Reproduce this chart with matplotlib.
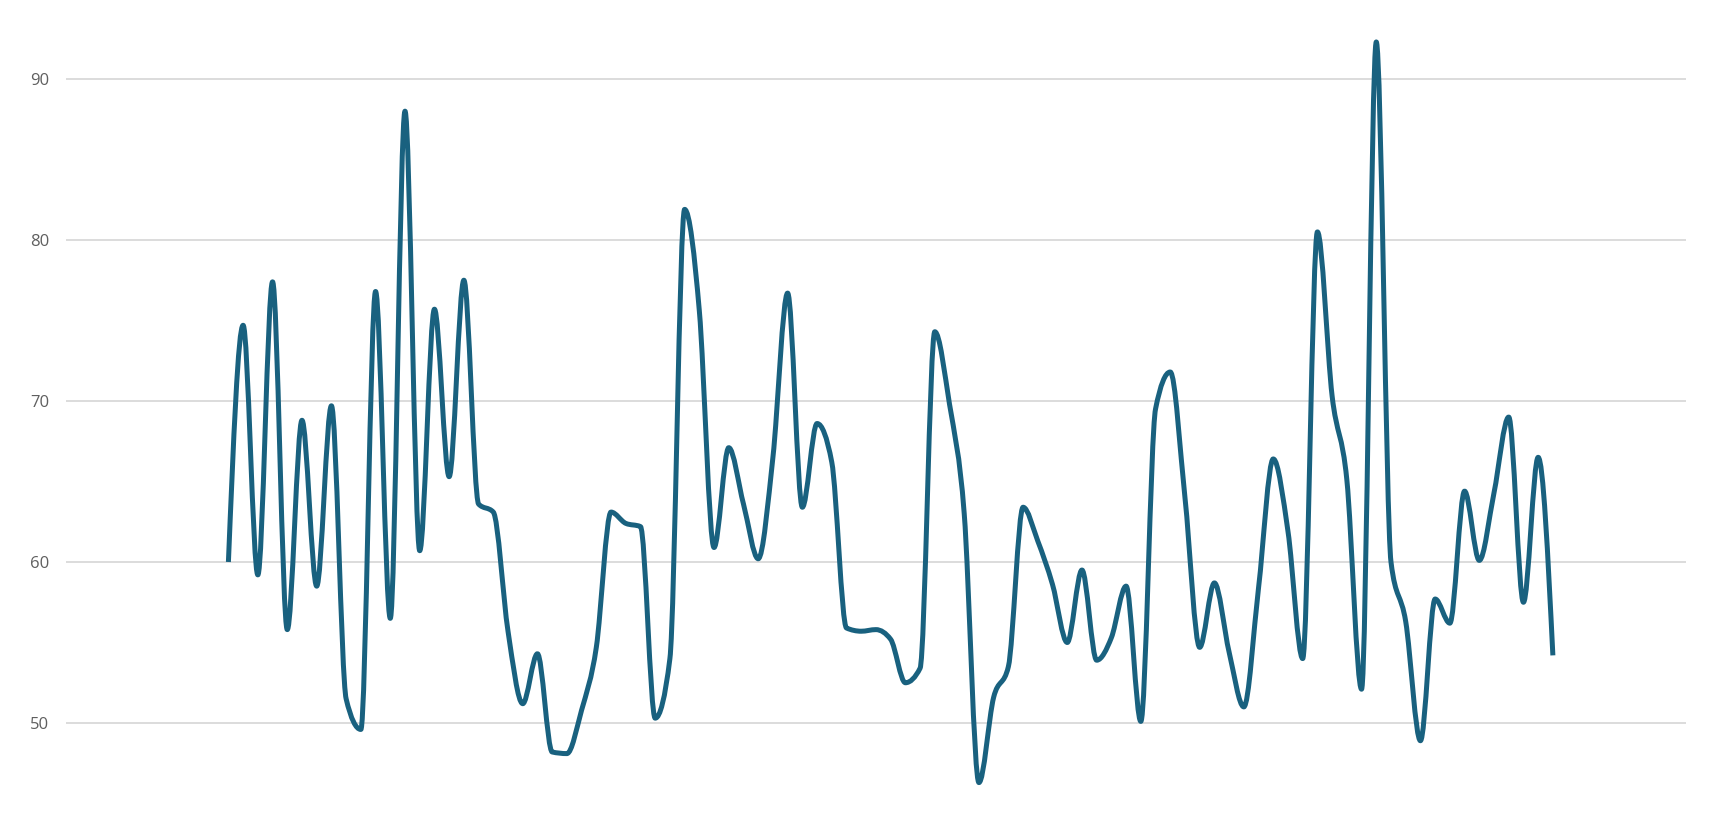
import numpy as np
import matplotlib
matplotlib.use("Agg")
import matplotlib.pyplot as plt
from matplotlib.path import Path
from matplotlib.patches import PathPatch

# Values (one point per step, evenly spaced)
values = [
    60.0, 74.7, 59.2, 77.4, 55.8, 68.8, 58.5, 69.7, 51.5, 49.6,
    76.8, 56.5, 88.0, 60.7, 75.7, 65.3, 77.5, 63.6, 63.1, 55.7,
    51.2, 54.3, 48.2, 48.1, 50.8, 54.7, 63.1, 62.4, 62.2, 50.3,
    54.0, 81.9, 75.6, 60.9, 67.1, 63.6, 60.2, 66.5, 76.7, 63.4,
    68.6, 66.2, 55.9, 55.7, 55.8, 55.2, 52.5, 53.4, 74.3, 69.8,
    63.0, 46.3, 51.6, 53.5, 63.4, 61.3, 58.6, 55.0, 59.5, 53.9,
    55.3, 58.5, 50.1, 69.5, 71.8, 64.0, 54.7, 58.7, 54.4, 51.0,
    58.4, 66.4, 61.9, 54.0, 80.5, 70.3, 65.1, 52.1, 92.3, 60.0,
    56.3, 48.9, 57.7, 56.2, 64.4, 60.1, 64.3, 69.0, 57.5, 66.5,
    54.2,
]
y_ticks = [50, 60, 70, 80, 90]

LINE_COLOR = "#19617f"
GRID_COLOR = "#d6d6d6"


def monotone_path(x, y):
    """Bezier path of a monotone-x cubic through the points (Steffen slopes)."""
    x = np.asarray(x, float)
    y = np.asarray(y, float)
    h = np.diff(x)
    s = np.diff(y) / h
    sgn = lambda v: np.where(v < 0, -1.0, 1.0)
    t = np.zeros(len(x))
    p = (s[:-1] * h[1:] + s[1:] * h[:-1]) / (h[:-1] + h[1:])
    t[1:-1] = (sgn(s[:-1]) + sgn(s[1:])) * np.minimum(
        np.minimum(np.abs(s[:-1]), np.abs(s[1:])), 0.5 * np.abs(p))
    t[0] = (3 * s[0] - t[1]) / 2
    t[-1] = (3 * s[-1] - t[-2]) / 2

    verts = [(x[0], y[0])]
    codes = [Path.MOVETO]
    for i in range(len(x) - 1):
        dx = h[i] / 3
        verts += [(x[i] + dx, y[i] + dx * t[i]),
                  (x[i + 1] - dx, y[i + 1] - dx * t[i + 1]),
                  (x[i + 1], y[i + 1])]
        codes += [Path.CURVE4] * 3
    return Path(verts, codes)


xs = np.arange(len(values))

fig = plt.figure(figsize=(17.3, 8.22), dpi=100)
ax = fig.add_axes([0.0382, 0.0225, 0.9364, 0.9402])

for v in y_ticks:
    ax.axhline(v, color=GRID_COLOR, linewidth=1.2, zorder=1)

ax.add_patch(PathPatch(monotone_path(xs, values), fill=False,
                       edgecolor=LINE_COLOR, linewidth=3.6,
                       capstyle="butt", joinstyle="round", zorder=3))

ax.set_xlim(-11.03, 99.05)
ax.set_ylim(45, 93)
ax.set_yticks(y_ticks)
ax.set_yticklabels([str(v) for v in y_ticks], fontfamily="Open Sans",
                   fontsize=12, color="#5f5f5f")
ax.set_xticks([])
ax.tick_params(axis="y", length=0, pad=12)
for side in ax.spines.values():
    side.set_visible(False)

fig.savefig("out.png", dpi=100, facecolor="white")
